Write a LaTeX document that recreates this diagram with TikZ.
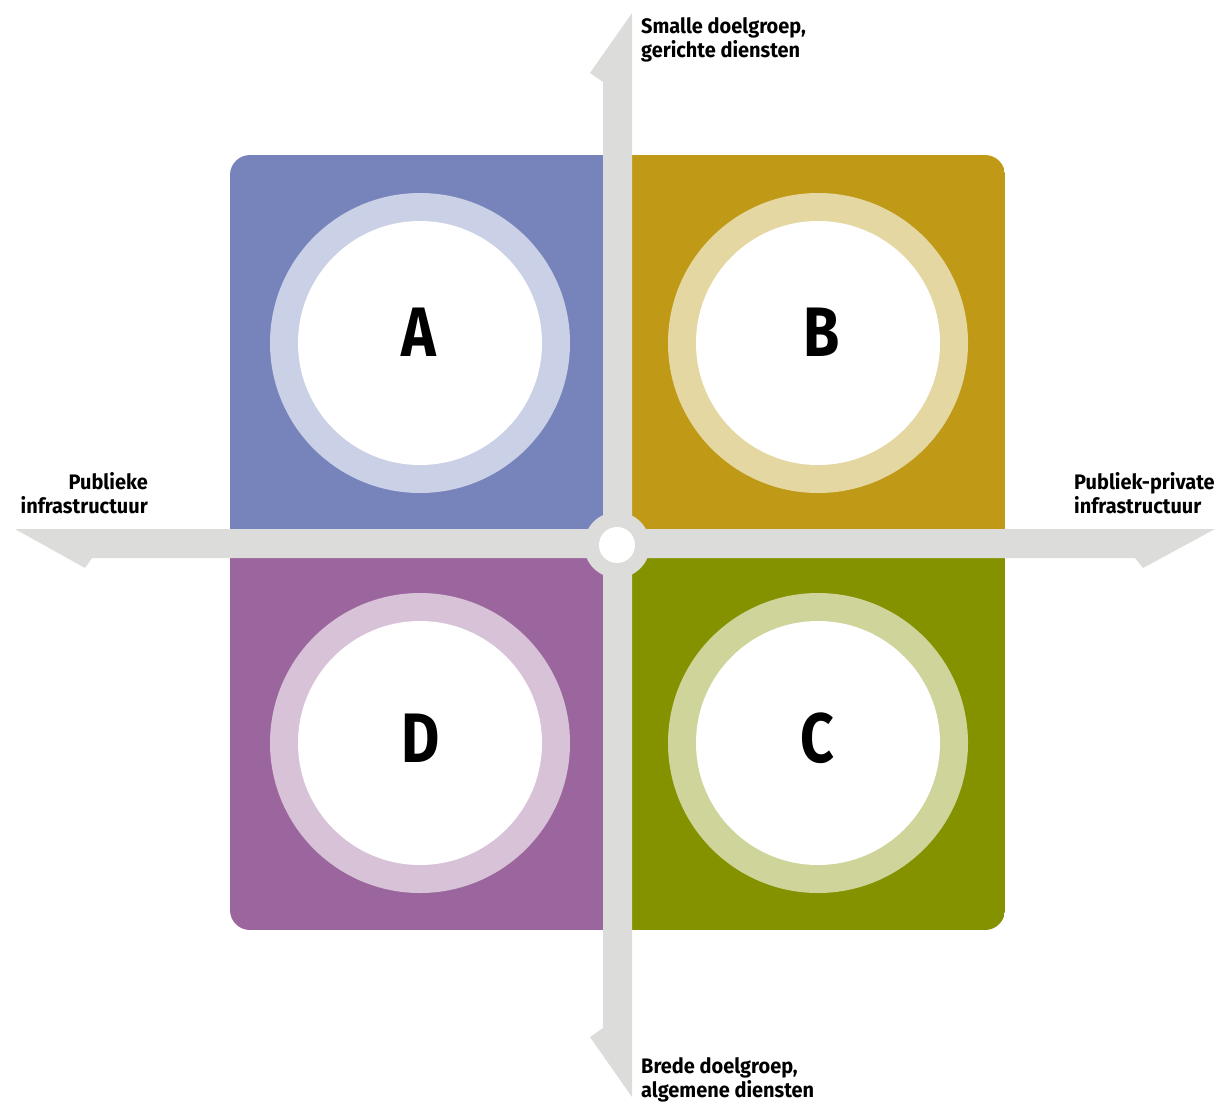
\documentclass[tikz,border=0pt]{standalone}
\usepackage{fontspec}
\newfontfamily\labf{Fira Sans}[FakeStretch=0.84, BoldFont={Fira Sans Bold}]
\newfontfamily\axf{Fira Sans}[FakeStretch=0.95, BoldFont={Fira Sans Bold}]
\definecolor{colA}{HTML}{7784BB}
\definecolor{ringA}{HTML}{CAD0E5}
\definecolor{colB}{HTML}{C09A17}
\definecolor{ringB}{HTML}{E5D7A2}
\definecolor{colD}{HTML}{9B659D}
\definecolor{ringD}{HTML}{D8C2D8}
\definecolor{colC}{HTML}{849200}
\definecolor{ringC}{HTML}{CFD49A}
\definecolor{axisgray}{HTML}{DCDCDA}
\begin{document}
\begin{tikzpicture}[x=1pt,y=-1pt,
  ringnode/.style={circle, minimum size=300pt, inner sep=0pt, fill=#1},
  holenode/.style={circle, minimum size=244pt, inner sep=0pt, fill=white},
  letter/.style={inner sep=0pt, font=\labf\bfseries\fontsize{70}{70}\selectfont},
  axislabel/.style={inner sep=0pt, font=\axf\bfseries\fontsize{21}{24}\selectfont}]
\useasboundingbox (0,0) rectangle (1218,1101);
% quadrants
\begin{scope}
  \clip[rounded corners=20pt] (230,155) rectangle (1005,930);
  \fill[colA] (230,155) rectangle (617,544);
  \fill[colB] (617,155) rectangle (1005,544);
  \fill[colD] (230,544) rectangle (617,930);
  \fill[colC] (617,544) rectangle (1005,930);
\end{scope}
% rings
\node[ringnode=ringA] (ra) at (420,343) {};
\node[holenode] (ha) at (420,343) {};
\node[ringnode=ringB] (rb) at (818,343) {};
\node[holenode] (hb) at (818,343) {};
\node[ringnode=ringD] (rd) at (420,743) {};
\node[holenode] (hd) at (420,743) {};
\node[ringnode=ringC] (rc) at (818,743) {};
\node[holenode] (hc) at (818,743) {};
% letters
\node[letter] (A) at (418.5,332) {A};
\node[letter] (B) at (822,332) {B};
\node[letter] (D) at (421,738.5) {D};
\node[letter] (C) at (817.5,738.5) {C};
% axes
\fill[axisgray] (632,13) -- (590,73) -- (603,82) -- (603,1028) -- (590,1037) -- (632,1097) -- cycle;
\fill[axisgray] (15,529) -- (1215,529) -- (1143,568) -- (1135,558) -- (92,558) -- (85,568) -- cycle;
\node[circle, fill=axisgray, minimum size=66pt, inner sep=0pt] (hub) at (617,545) {};
\node[circle, fill=white, minimum size=36pt, inner sep=0pt] (hubhole) at (617,545) {};
% labels
\node[axislabel, anchor=north west, align=left] (top) at (641,17) {Smalle doelgroep,\\gerichte diensten};
\node[axislabel, anchor=north east, align=right] (left) at (148,472) {Publieke\\infrastructuur};
\node[axislabel, anchor=north west, align=left] (right) at (1074,472) {Publiek-private\\infrastructuur};
\node[axislabel, anchor=north west, align=left] (bottom) at (641,1057) {Brede doelgroep,\\algemene diensten};
\end{tikzpicture}
\end{document}
